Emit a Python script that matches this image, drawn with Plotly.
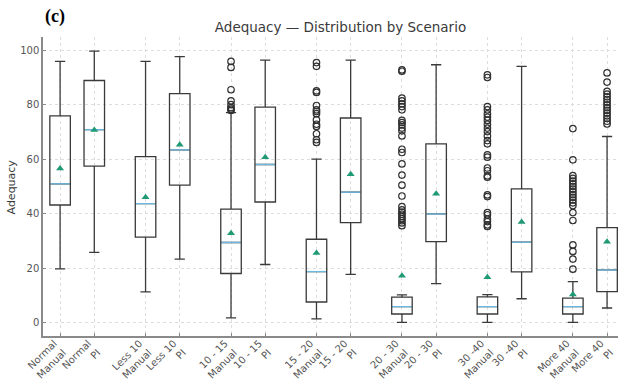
import plotly.graph_objects as go

scenarios = ["Normal", "Less 10", "10 - 15", "15 - 20", "20 - 30", "30 -40", "More 40"]
methods = ["Manual", "PI"]

# box statistics, order: scenario x method (Manual, PI)
lower = [19.7, 25.8, 11.2, 23.3, 1.7, 21.3, 1.3, 17.7, 0.0, 14.3, 0.0, 8.7, 0.0, 5.3]
q1 = [43.2, 57.5, 31.4, 50.5, 18.0, 44.3, 7.5, 36.7, 3.1, 29.7, 3.1, 18.6, 3.1, 11.3]
median = [51.0, 70.9, 43.7, 63.5, 29.4, 58.1, 18.7, 47.9, 5.8, 39.9, 5.8, 29.5, 5.8, 19.3]
q3 = [76.0, 89.0, 61.0, 84.2, 41.7, 79.2, 30.6, 75.2, 9.3, 65.7, 9.4, 49.1, 8.9, 34.9]
upper = [96.0, 99.8, 96.0, 97.8, 77.2, 96.5, 60.1, 96.5, 10.1, 94.8, 10.2, 94.2, 15.0, 68.4]
mean = [56.6, 70.8, 46.0, 65.4, 32.8, 60.8, 25.5, 54.5, 17.2, 47.3, 16.6, 36.9, 10.3, 29.7]

outliers = [
    [], [], [], [],
    [96.0, 93.8, 85.6, 81.5, 80.1, 79.0, 78.5, 78.0],
    [],
    [95.6, 94.2, 85.2, 84.6, 79.8, 78.2, 77.6, 76.8, 74.5, 72.9, 72.1, 69.4, 67.2, 66.2],
    [],
    [92.9, 92.4, 82.5, 81.5, 80.4, 79.4, 78.2, 74.3, 73.5, 72.7, 71.5, 70.5, 68.6,
     63.7, 62.5, 58.3, 54.2, 50.5, 46.5, 42.6, 41.4, 40.6, 39.8, 39.0, 38.2, 37.4,
     36.6, 35.6],
    [],
    [91.1, 90.1, 79.4, 78.2, 76.7, 75.5, 74.3, 72.9, 71.5, 70.2, 68.6, 66.9, 65.7,
     61.6, 60.8, 56.8, 55.8, 53.9, 53.4, 46.9, 46.3, 40.4, 39.6, 38.0, 37.1, 35.9, 35.3],
    [],
    [71.3, 59.8, 54.0, 53.0, 52.0, 51.0, 50.0, 49.0, 48.0, 47.0, 46.0, 45.0, 44.0,
     43.0, 40.4, 37.5, 28.5, 26.1, 23.3, 19.6],
    [91.8, 88.4, 85.0, 84.0, 83.0, 82.0, 81.0, 80.0, 79.0, 78.0, 77.0, 76.0, 75.0,
     74.0, 73.0],
]

yticks = [0, 20, 40, 60, 80, 100]

BOXW = 0.6
labels = []
pos = []
for gi, s in enumerate(scenarios):
    for mi, m in enumerate(methods):
        pos.append(1 + gi * 2.5 + mi)
        labels.append(f"{s}<br>{m}")

fig = go.Figure()
fig.add_trace(go.Box(
    x=pos, q1=q1, median=median, q3=q3, lowerfence=lower, upperfence=upper,
    width=BOXW, whiskerwidth=0.5, boxpoints=False,
    line=dict(color="#3a3a3a", width=1.3), fillcolor="rgba(0,0,0,0)",
    showlegend=False, hoverinfo="skip",
))

mx, my = [], []
for p, m in zip(pos, median):
    mx += [p - BOXW / 2 + 0.02, p + BOXW / 2 - 0.02, None]
    my += [m, m, None]
fig.add_trace(go.Scatter(x=mx, y=my, mode="lines",
                         line=dict(color="#6db8e0", width=1.3),
                         showlegend=False, hoverinfo="skip"))

ox, oy = [], []
for p, ol in zip(pos, outliers):
    ox += [p] * len(ol)
    oy += ol
fig.add_trace(go.Scatter(x=ox, y=oy, mode="markers",
                         marker=dict(symbol="circle-open", size=6.5,
                                     color="#303030", line=dict(width=1.2)),
                         showlegend=False, hoverinfo="skip", cliponaxis=False))

fig.add_trace(go.Scatter(x=pos, y=mean, mode="markers",
                         marker=dict(symbol="triangle-up", size=7, color="#1f9a74"),
                         showlegend=False, hoverinfo="skip"))

fig.update_layout(
    width=618, height=383,
    margin=dict(l=43, r=0, t=37, b=47),
    paper_bgcolor="white", plot_bgcolor="white",
    font=dict(family="DejaVu Sans", color="#444444"),
    title=dict(text="Adequacy — Distribution by Scenario", xref="container",
               x=0.551, xanchor="center", y=0.93, yanchor="middle",
               font=dict(size=13.5, color="#3a3a3a")),
    annotations=[
        dict(text="<b>(c)</b>", xref="paper", yref="paper", x=0.0, y=1.07,
             xanchor="left", yanchor="middle", showarrow=False,
             font=dict(family="Liberation Serif", size=18, color="#000000")),
        dict(text="Adequacy", xref="paper", yref="paper", x=-0.054, y=0.5,
             xanchor="center", yanchor="middle", textangle=-90, showarrow=False,
             font=dict(size=11, color="#3a3a3a")),
    ],
)
fig.update_xaxes(
    range=[0.5, 17.32], tickvals=pos, ticktext=labels, tickangle=-45,
    tickfont=dict(size=10, color="#555555"), automargin=False,
    ticklabeloverflow="allow", ticklabelshift=-6, ticklabelstandoff=-4,
    showgrid=True, gridcolor="#dddddd", griddash="dot", gridwidth=0.8,
    showline=True, linecolor="#8a8a8a", linewidth=1.5,
    ticks="inside", ticklen=3, tickcolor="#8a8a8a", zeroline=False,
)
fig.update_yaxes(
    range=[-5, 105], tickvals=yticks, tickfont=dict(size=10, color="#555555"),
    automargin=False,
    showgrid=True, gridcolor="#dddddd", griddash="dot", gridwidth=0.8,
    showline=True, linecolor="#8a8a8a", linewidth=1.5,
    ticks="inside", ticklen=3, tickcolor="#8a8a8a", zeroline=False,
)

fig.write_html("out.html", config={"displayModeBar": False},
               post_script="document.body.style.margin='0px';document.body.style.overflow='hidden';")
